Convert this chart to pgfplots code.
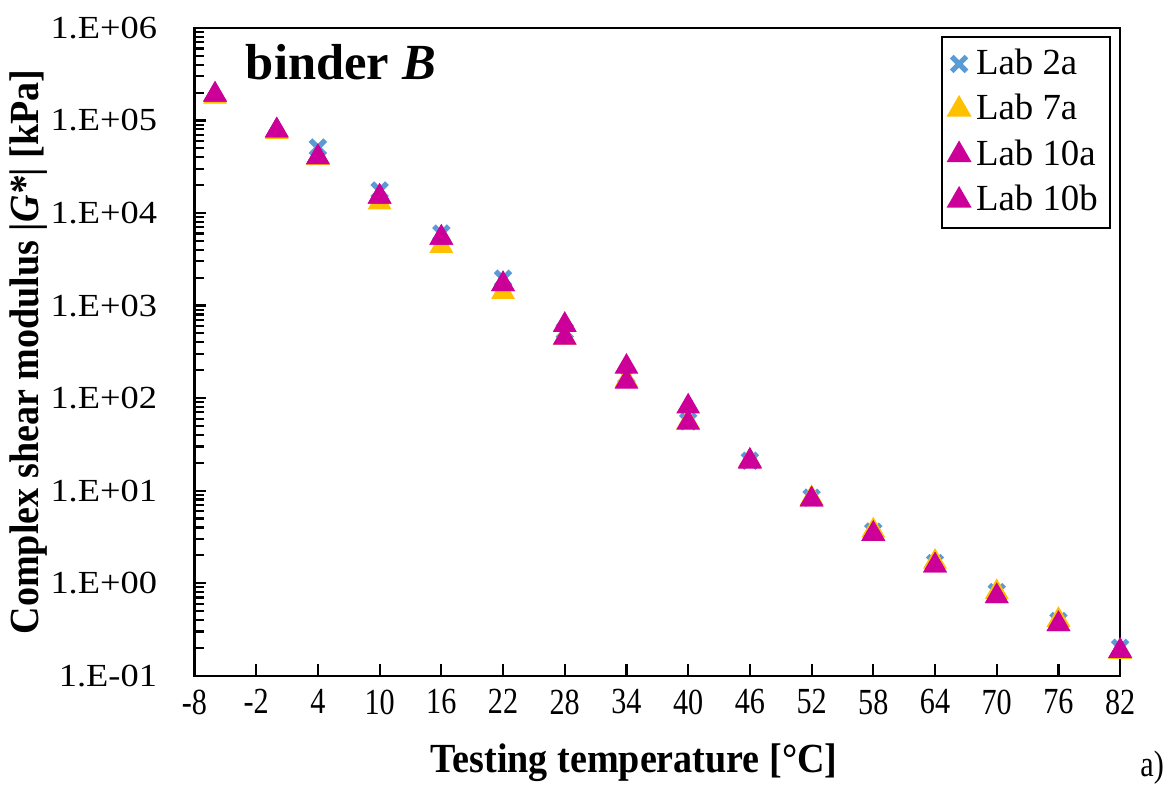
\documentclass[border=0pt]{standalone}
\usepackage{fontspec}
\setmainfont{Liberation Serif}
\newfontfamily\condfont{Liberation Serif}[FakeStretch=0.82]
\newfontfamily\tickfont{Liberation Serif}[FakeStretch=1.13]
\newfontfamily\labfont{Liberation Serif}[FakeStretch=0.92]
\usepackage{pgfplots}
\pgfplotsset{compat=1.18}

\definecolor{labblue}{HTML}{5B9BD5}
\definecolor{labyellow}{HTML}{FFC000}
\definecolor{labmagenta}{HTML}{CC0099}

\begin{document}
\begin{tikzpicture}
\begin{axis}[
  scale only axis,
  width=301.9pt, height=211.25pt,
  ymode=log,
  xmin=-8, xmax=82,
  ymin=0.1, ymax=1e6,
  xtick={-8,-2,4,10,16,22,28,34,40,46,52,58,64,70,76,82},
  xticklabels={-8,-2,4,10,16,22,28,34,40,46,52,58,64,70,76,82},
  ytick={0.1,1,10,100,1000,10000,100000,1000000},
  yticklabels={1.E-01,1.E+00,1.E+01,1.E+02,1.E+03,1.E+04,1.E+05,1.E+06},
  minor ytick={0.2,0.3,0.4,0.5,0.6,0.7,0.8,0.9,
    2,3,4,5,6,7,8,9,
    20,30,40,50,60,70,80,90,
    200,300,400,500,600,700,800,900,
    2000,3000,4000,5000,6000,7000,8000,9000,
    20000,30000,40000,50000,60000,70000,80000,90000,
    200000,300000,400000,500000,600000,700000,800000,900000},
  tick pos=left,
  tick align=inside,
  major tick length=3.9pt,
  minor tick length=3.2pt,
  axis line style={line width=0.7pt},
  every tick/.style={black, line width=0.7pt},
  xticklabel style={font=\condfont\fontsize{12}{14}\selectfont, yshift=-1pt},
  yticklabel style={font=\tickfont\fontsize{10.5}{12}\selectfont, xshift=-8.7pt},
  xlabel={\labfont\bfseries Testing temperature [°C]},
  ylabel={\labfont\bfseries Complex shear modulus |\textit{G*}| [kPa]},
  xlabel style={font=\fontsize{13.5}{16}\selectfont, at={(rel axis cs:0.475,-0.134)}, anchor=center},
  ylabel style={font=\fontsize{13.5}{16}\selectfont, at={(rel axis cs:-0.1787,0.5)}, anchor=center},
  clip=false,
  legend style={at={(0.990,0.988)}, anchor=north east, draw=black, line width=0.6pt,
    font=\fontsize{12}{14}\selectfont, row sep=1pt, inner sep=2pt,
    cells={anchor=west}},
  legend cell align={left},
]
\addplot[only marks, mark=x, mark size=3.4pt, color=labblue, mark options={line width=1.7pt}]
  coordinates {(4,5.1e4)(10,1.75e4)(16,6.0e3)(22,1.95e3)(28,530)(34,175)(40,56)(46,21)
  (52,8.4)(58,3.6)(64,1.65)(70,0.8)(76,0.39)(82,0.2)};
\addplot[only marks, mark=triangle*, mark size=4.1pt, color=labyellow]
  coordinates {(-6,1.8e5)(0,7.5e4)(4,3.9e4)(10,1.3e4)(16,4.4e3)(22,1.4e3)(28,450)(34,155)
  (40,55)(46,21)(52,8.3)(58,3.7)(64,1.7)(70,0.8)(76,0.4)(82,0.18)};
\addplot[only marks, mark=triangle*, mark size=4.1pt, color=labmagenta]
  coordinates {(-6,1.9e5)(0,7.8e4)(4,4.0e4)(10,1.5e4)(16,5.4e3)(22,1.7e3)(28,618)(34,218)
  (40,81)(46,21)(52,8.0)(58,3.4)(64,1.55)(70,0.72)(76,0.36)(82,0.185)};
\addplot[only marks, mark=triangle*, mark size=4.1pt, color=labmagenta]
  coordinates {(-6,1.9e5)(0,7.8e4)(4,4.0e4)(10,1.5e4)(16,5.4e3)(22,1.7e3)(28,448)(34,150)
  (40,54)(46,20.5)(52,8.0)(58,3.4)(64,1.55)(70,0.72)(76,0.36)(82,0.185)};
\legend{Lab 2a, Lab 7a, Lab 10a, Lab 10b}
\node[anchor=north west, inner sep=0pt, font=\fontsize{16.5}{19}\selectfont\bfseries]
  at (rel axis cs:0.055,0.975) {binder \textit{B}};
\end{axis}
\node[font=\condfont\fontsize{12}{14}\selectfont] at ([xshift=312.3pt,yshift=-29.9pt]current axis.south west) {a)};
\path ([xshift=-63.05pt,yshift=-36.4pt]current axis.south west) rectangle ++(381.55pt,256.75pt);
\end{tikzpicture}
\end{document}
